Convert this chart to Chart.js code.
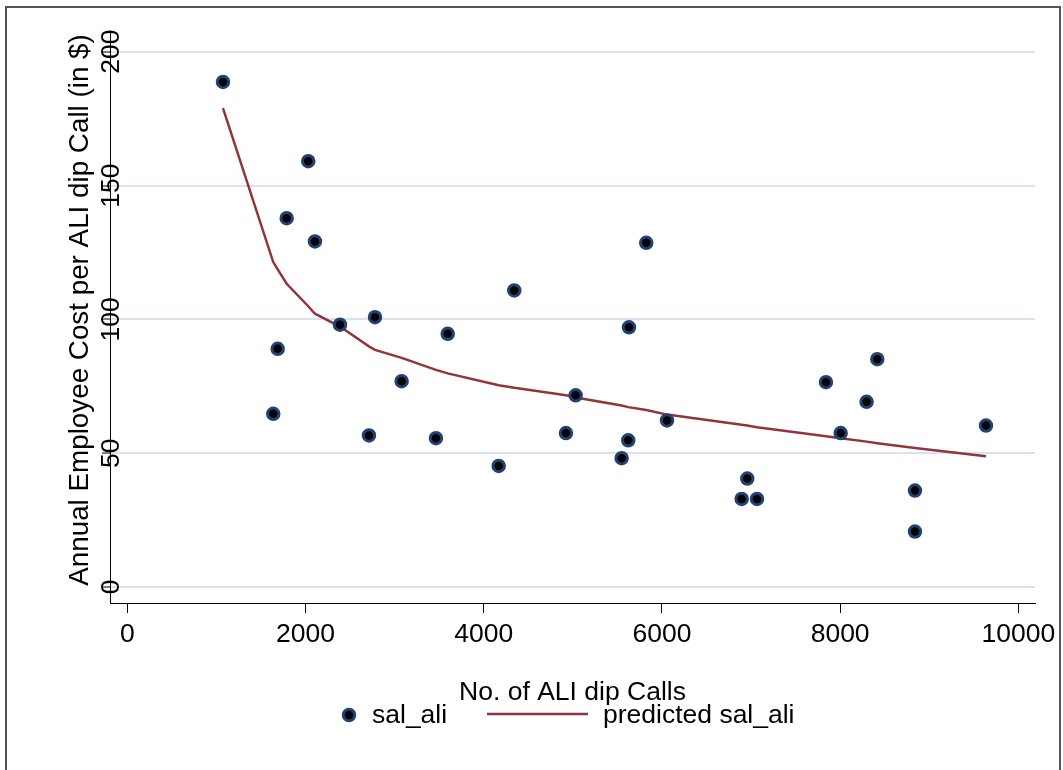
<!DOCTYPE html>
<html>
<head>
<meta charset="utf-8">
<script src="https://cdn.jsdelivr.net/npm/chart.js@4"></script>
<style>
  html, body { margin: 0; padding: 0; background: #fff; }
  #wrap { position: relative; width: 1063px; height: 770px; }
</style>
</head>
<body>
<div id="wrap"><canvas id="chart" width="1063" height="770"></canvas></div>
<script>
// number of ALI dip calls per site
const calls = [1074, 1638, 1688, 1789, 2031, 2106, 2387, 2712, 2780, 3079, 3464,
  3596, 4168, 4343, 4923, 5032, 5548, 5622, 5630, 5824, 6057, 6895, 6958, 7067,
  7841, 8006, 8297, 8417, 8840, 8840, 9637];
// observed cost per call
const salAli = [188.7, 64.7, 89.0, 137.8, 159.1, 129.1, 98.0, 56.6, 100.8, 76.9, 55.6,
  94.6, 45.2, 110.8, 57.5, 71.6, 48.1, 54.8, 97.0, 128.6, 62.2, 32.9, 40.5, 32.9,
  76.5, 57.5, 69.2, 85.1, 36.0, 20.7, 60.3];
// fitted values
const predSalAli = [178.9, 121.4, 118.7, 113.3, 104.9, 102.1, 97.3, 89.9, 88.6, 85.6, 81.1,
  79.8, 75.4, 74.4, 71.6, 70.8, 67.8, 67.2, 67.2, 66.1, 64.4, 60.6, 60.3, 59.7,
  56.3, 55.6, 54.3, 53.7, 51.9, 51.9, 48.8];

const xTicks = [0, 2000, 4000, 6000, 8000, 10000];
const yTicks = [0, 50, 100, 150, 200];
const xTitle = 'No. of ALI dip Calls';
const yTitle = 'Annual Employee Cost per ALI dip Call (in $)';

const FONT = '"Liberation Sans", Arial, Helvetica, sans-serif';
const FS = 26.5;
const NAVY = '#1f4375';
const MAROON = '#90353b';

const extras = {
  id: 'extras',
  beforeDraw(chart) {
    const ctx = chart.ctx;
    ctx.save();
    ctx.strokeStyle = '#555';
    ctx.lineWidth = 2;
    ctx.strokeRect(6, 7, 1054, 800);
    ctx.restore();
  },
  afterDraw(chart) {
    const ctx = chart.ctx;
    const area = chart.chartArea;
    const ys = chart.scales.y;
    ctx.save();
    ctx.fillStyle = '#000';
    ctx.font = `${FS}px ${FONT}`;

    // rotated y tick labels sitting over the axis line
    yTicks.forEach((v) => {
      ctx.save();
      ctx.translate(119, ys.getPixelForValue(v));
      ctx.rotate(-Math.PI / 2);
      ctx.textAlign = 'center';
      ctx.textBaseline = 'alphabetic';
      ctx.fillText(String(v), 0, 0);
      ctx.restore();
    });

    // y title
    ctx.save();
    ctx.font = `27.8px ${FONT}`;
    ctx.translate(88, 310);
    ctx.rotate(-Math.PI / 2);
    ctx.textAlign = 'center';
    ctx.textBaseline = 'alphabetic';
    ctx.fillText(yTitle, 0, 0);
    ctx.restore();

    // x title
    ctx.textAlign = 'center';
    ctx.textBaseline = 'alphabetic';
    ctx.fillText(xTitle, (area.left + area.right) / 2, 700);

    // legend
    const ly = 715;
    const ds = chart.data.datasets;
    ctx.beginPath();
    ctx.arc(349, ly, 5.75, 0, Math.PI * 2);
    ctx.fillStyle = ds[0].backgroundColor;
    ctx.fill();
    ctx.lineWidth = 3;
    ctx.strokeStyle = ds[0].borderColor;
    ctx.stroke();
    ctx.fillStyle = '#000';
    ctx.textAlign = 'left';
    ctx.textBaseline = 'middle';
    ctx.fillText(ds[0].label, 372, ly + 1);

    ctx.beginPath();
    ctx.moveTo(487, ly - 1);
    ctx.lineTo(588, ly - 1);
    ctx.lineWidth = 2.5;
    ctx.strokeStyle = ds[1].borderColor;
    ctx.stroke();
    ctx.fillText(ds[1].label, 603, ly + 1);
    ctx.restore();
  }
};

new Chart(document.getElementById('chart'), {
  type: 'scatter',
  data: {
    datasets: [
      {
        label: 'sal_ali',
        data: calls.map((x, i) => ({ x, y: salAli[i] })),
        backgroundColor: '#000',
        borderColor: NAVY,
        borderWidth: 3,
        pointRadius: 5.75,
        pointHoverRadius: 5.75,
        order: 1,
      },
      {
        type: 'line',
        label: 'predicted sal_ali',
        data: calls.map((x, i) => ({ x, y: predSalAli[i] })),
        borderColor: MAROON,
        backgroundColor: MAROON,
        borderWidth: 2.5,
        pointRadius: 0,
        tension: 0,
        fill: false,
        order: 2,
      },
    ],
  },
  options: {
    responsive: false,
    animation: false,
    devicePixelRatio: 1,
    layout: { padding: { top: 33, right: 28, left: 0, bottom: 0 } },
    plugins: {
      legend: { display: false },
      tooltip: { enabled: false },
    },
    scales: {
      x: {
        type: 'linear',
        min: -194,
        max: 10187,
        afterBuildTicks: (scale) => { scale.ticks = xTicks.map((v) => ({ value: v })); },
        afterFit: (scale) => { scale.height = 167; },
        grid: { drawOnChartArea: false, drawTicks: true, tickLength: 10, tickColor: '#000', tickWidth: 1 },
        border: { display: true, color: '#000', width: 1 },
        ticks: {
          color: '#000',
          padding: 6,
          maxRotation: 0,
          font: { family: FONT, size: FS },
          callback: (v) => String(v),
        },
      },
      y: {
        type: 'linear',
        min: -6,
        max: 207,
        afterBuildTicks: (scale) => { scale.ticks = yTicks.map((v) => ({ value: v })); },
        afterFit: (scale) => { scale.width = 110; },
        grid: { color: '#dce2ed', lineWidth: 2, drawTicks: true, tickLength: 8, tickColor: '#000', tickWidth: 1 },
        border: { display: true, color: '#000', width: 1 },
        ticks: { display: false },
      },
    },
  },
  plugins: [extras],
});
</script>
</body>
</html>
